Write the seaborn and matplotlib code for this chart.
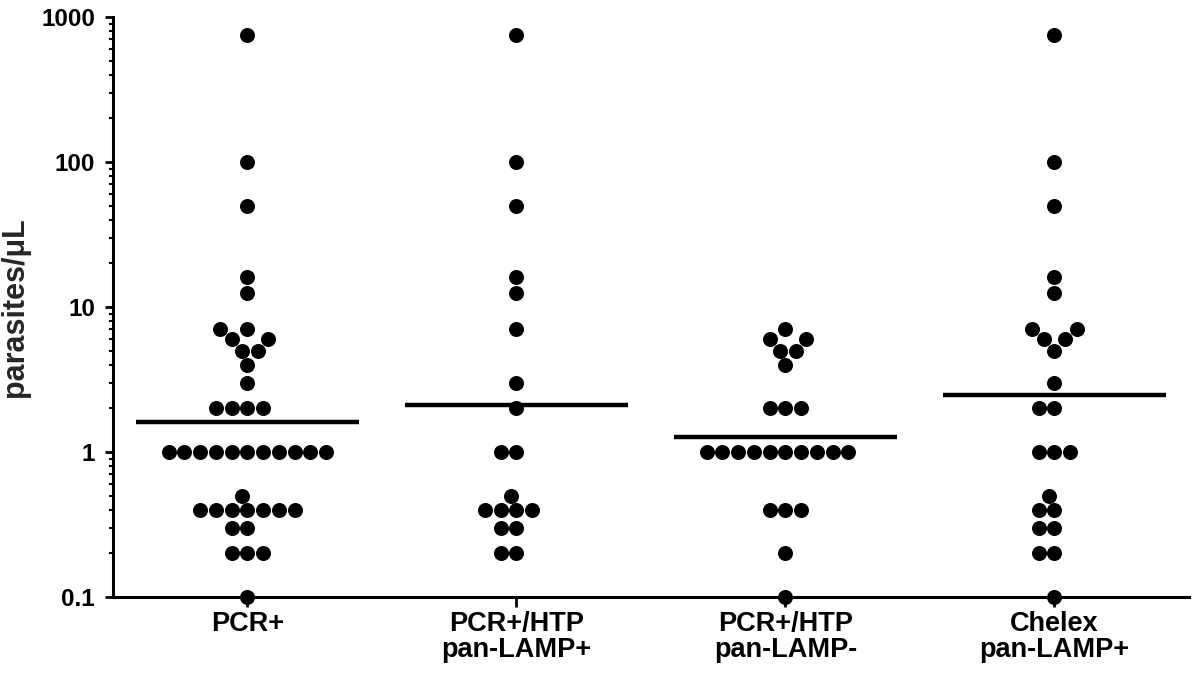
import numpy as np
import pandas as pd
import matplotlib
matplotlib.use("Agg")
import matplotlib.pyplot as plt
import matplotlib.ticker as mticker
import seaborn as sns

# ---- data (parasites/uL) ----
categories = ["PCR+", "PCR+/HTP\npan-LAMP+", "PCR+/HTP\npan-LAMP-", "Chelex\npan-LAMP+"]

pcr_pos = [750, 100, 50, 16, 12.5, 7, 7, 6, 6, 5, 5, 4, 3,
           2, 2, 2, 2,
           1, 1, 1, 1, 1, 1, 1, 1, 1, 1, 1,
           0.5, 0.4, 0.4, 0.4, 0.4, 0.4, 0.4, 0.4,
           0.3, 0.3, 0.2, 0.2, 0.2, 0.1]
htp_lamp_pos = [750, 100, 50, 16, 12.5, 7, 3, 2, 1, 1,
                0.5, 0.4, 0.4, 0.4, 0.4, 0.3, 0.3, 0.2, 0.2]
htp_lamp_neg = [7, 6, 6, 5, 5, 4, 2, 2, 2,
                1, 1, 1, 1, 1, 1, 1, 1, 1, 1,
                0.4, 0.4, 0.4, 0.2, 0.1]
chelex_lamp_pos = [750, 100, 50, 16, 12.5, 7, 7, 6, 6, 5, 3,
                   2, 2, 1, 1, 1, 0.5, 0.4, 0.4, 0.3, 0.3, 0.2, 0.2, 0.1]

y_ticks = [0.1, 1, 10, 100, 1000]
y_tick_labels = ["0.1", "1", "10", "100", "1000"]

groups = [pcr_pos, htp_lamp_pos, htp_lamp_neg, chelex_lamp_pos]
df = pd.DataFrame({
    "group": np.concatenate([[c] * len(g) for c, g in zip(categories, groups)]),
    "value": np.concatenate(groups).astype(float),
})
geo_means = [float(np.exp(np.mean(np.log(g)))) for g in groups]

# ---- figure ----
sns.set_style("ticks")
plt.rcParams["font.family"] = ["Liberation Sans", "DejaVu Sans"]
plt.rcParams["font.weight"] = "bold"

fig = plt.figure(figsize=(11.97, 6.74), dpi=100)
ax = fig.add_axes([0.0944, 0.1142, 0.8989, 0.8606])
ax.set_yscale("log")
ax.set_ylim(0.1, 1000)
ax.set_xlim(-0.5, 3.5)

sns.swarmplot(data=df, x="group", y="value", order=categories, color="black",
              size=10.8, linewidth=0, ax=ax, clip_on=False, zorder=5)
ax.set_xlim(-0.5, 3.5)
ax.set_ylim(0.1, 1000)

# geometric mean lines
for i, gm in enumerate(geo_means):
    ax.hlines(gm, i - 0.415, i + 0.415, color="black", linewidth=3.2, zorder=4)

# axes styling
for side in ["top", "right"]:
    ax.spines[side].set_visible(False)
for side in ["left", "bottom"]:
    ax.spines[side].set_linewidth(2.2)
    ax.spines[side].set_color("black")

ax.yaxis.set_major_locator(mticker.FixedLocator(y_ticks))
ax.yaxis.set_major_formatter(mticker.FixedFormatter(y_tick_labels))
ax.yaxis.set_minor_locator(mticker.LogLocator(base=10, subs=np.arange(2, 10)))
ax.yaxis.set_minor_formatter(mticker.NullFormatter())
ax.tick_params(axis="y", which="major", length=6, width=2, labelsize=17.5, pad=7,
               color="black", labelcolor="black")
ax.tick_params(axis="y", which="minor", length=3, width=1.5, color="black")
ax.tick_params(axis="x", which="major", length=7, width=2, labelsize=19.5, pad=3,
               color="black", labelcolor="black")
for lab in ax.get_xticklabels() + ax.get_yticklabels():
    lab.set_fontweight("bold")
for lab in ax.get_xticklabels():
    lab.set_linespacing(1.0)

ax.set_xlabel("")
ax.set_ylabel("parasites/\u03bcL", fontsize=22, fontweight="bold", labelpad=8)

fig.savefig("out.png", dpi=100, facecolor="white")
